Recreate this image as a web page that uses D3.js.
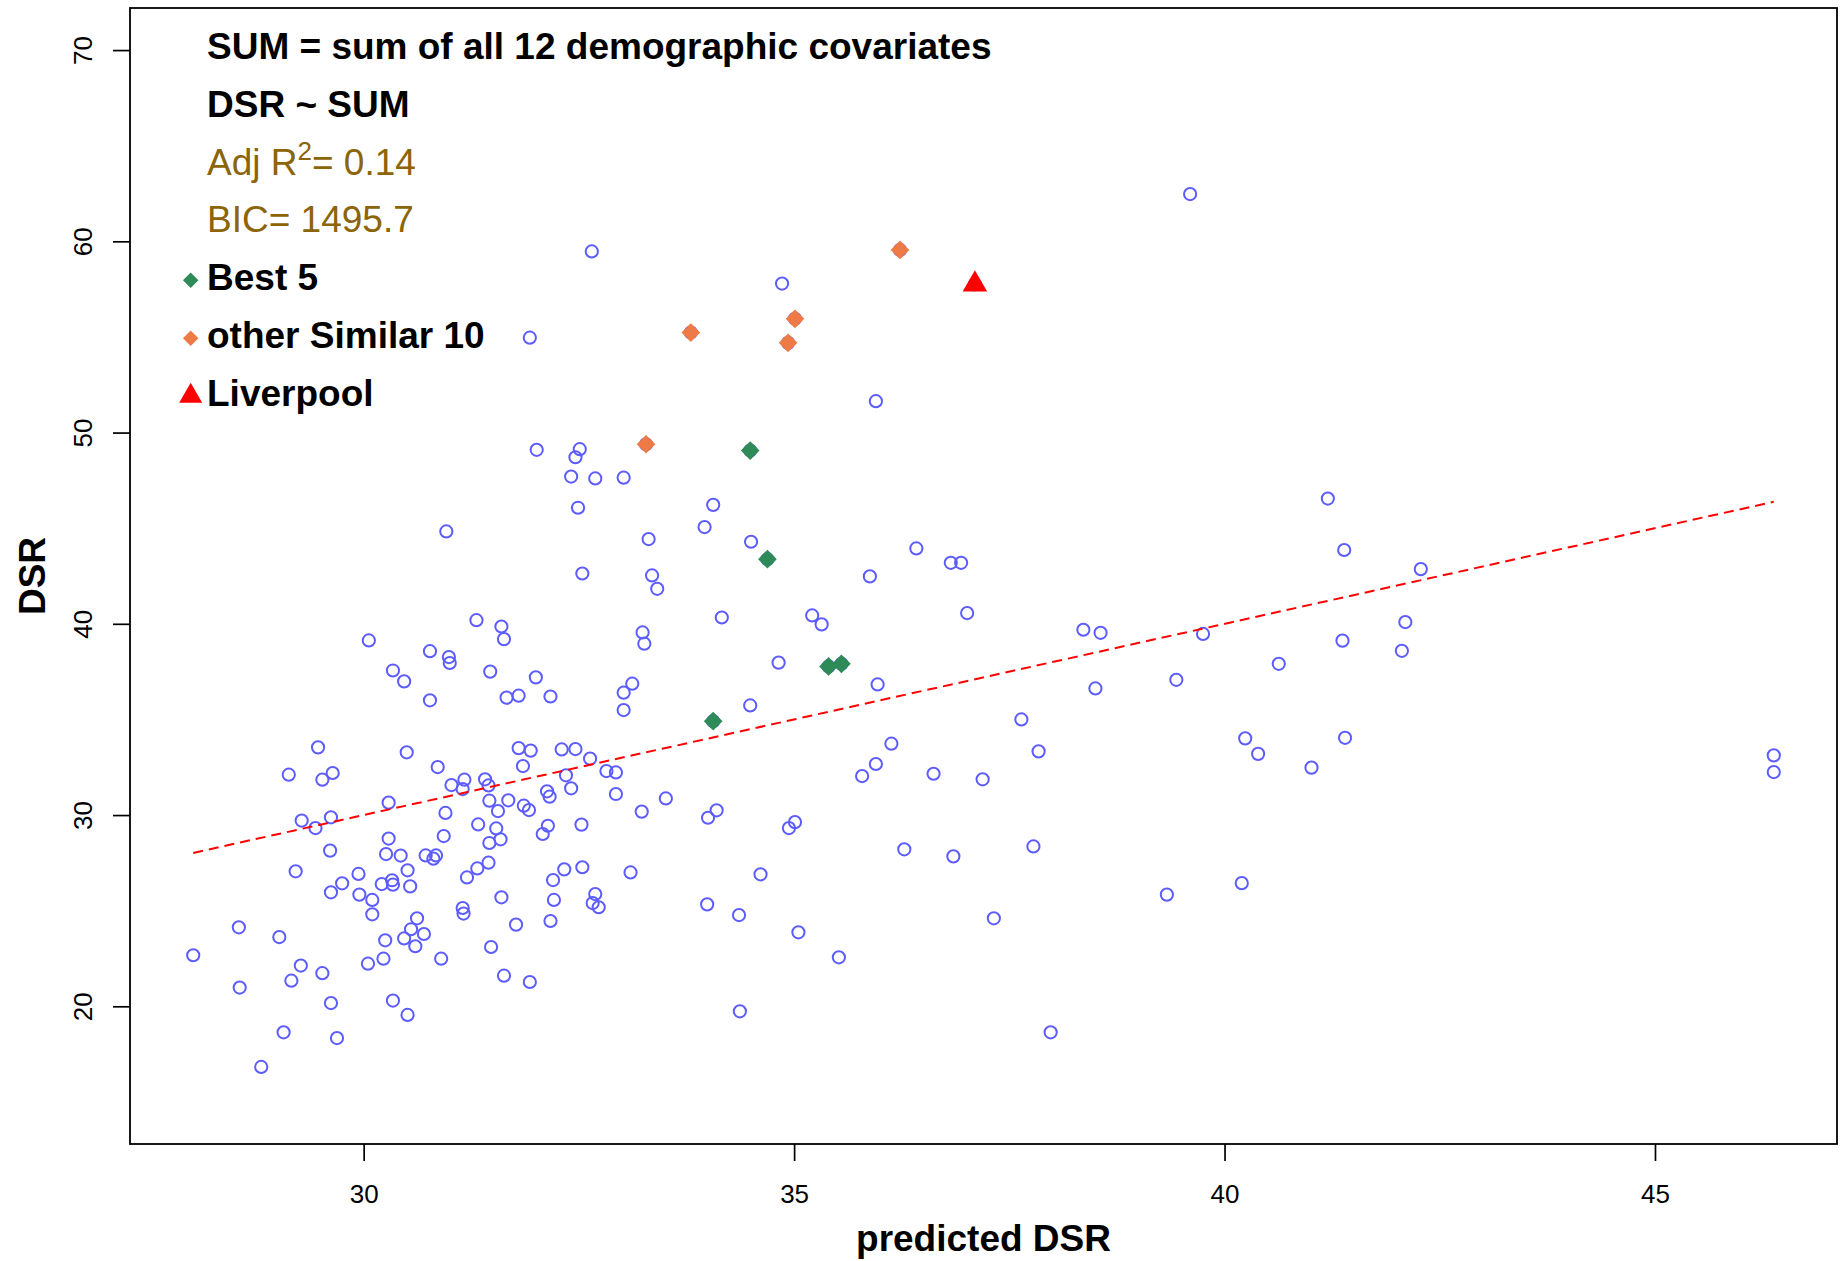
<!DOCTYPE html>
<html>
<head>
<meta charset="utf-8">
<script src="https://cdn.jsdelivr.net/npm/d3@7"></script>
<style>
  body { margin: 0; background: #fff; }
  svg { display: block; font-family: "Liberation Sans", Arial, Helvetica, sans-serif; }
</style>
</head>
<body>
<div id="d3-container"></div>
<script>
/* CONSTANTS AND GLOBALS */
const width = 1845,
  height = 1261,
  margin = { top: 8, bottom: 117, left: 130, right: 8 },
  radius = 6.1;

/* DATA */
// predicted DSR (x) and observed DSR (y), one entry per area
const predicted = [
  32.01, 32.51, 32.46, 33.28, 34.49, 32.41, 32.69, 33.02, 32.49, 34.06,
  33.96, 33.31, 34.50, 34.69, 32.54, 33.35, 33.41, 34.16, 31.31, 31.60,
  31.63, 33.24, 33.26, 34.82, 31.47, 32.00, 31.66, 31.80, 32.17, 33.12,
  33.02, 33.02, 34.49, 34.06, 30.96, 30.06, 30.77, 30.99, 31.00, 30.34,
  30.47, 30.77, 29.47, 30.50, 29.13, 29.52, 29.64, 30.86, 31.02, 31.17,
  31.15, 31.41, 31.45, 30.29, 30.95, 31.46, 29.28, 29.44, 29.62, 31.33,
  31.46, 30.93, 30.29, 29.61, 30.26, 30.43, 30.72, 30.84, 30.81, 31.45,
  31.32, 31.20, 30.51, 29.21, 29.94, 29.75, 29.62, 30.21, 30.33, 30.34,
  30.54, 29.95, 30.10, 30.10, 31.15, 31.16, 28.55, 29.02, 28.02, 30.62,
  30.55, 30.70, 30.47, 30.60, 30.25, 30.23, 30.05, 30.90, 29.27, 29.52,
  29.16, 28.56, 29.62, 30.34, 30.51, 29.07, 29.69, 28.81, 31.80, 31.94,
  32.30, 32.46, 32.63, 31.85, 32.82, 32.93, 32.35, 32.13, 32.16, 32.41,
  32.93, 31.68, 31.86, 31.92, 31.56, 33.51, 33.23, 34.10, 34.00, 35.01,
  34.94, 31.54, 32.14, 32.08, 32.53, 31.59, 32.33, 32.54, 33.10, 34.61,
  32.20, 31.60, 32.21, 32.69, 32.66, 32.73, 33.99, 34.36, 35.05, 31.77,
  32.17, 31.48, 31.63, 31.93, 34.37, 35.21, 35.32, 37.01, 38.36, 38.56,
  35.40, 35.55, 35.97, 38.50, 37.64, 36.13, 37.84, 35.95, 35.79, 36.62,
  37.19, 36.28, 36.85, 37.78, 35.52, 37.32, 37.98, 36.23, 37.10, 35.01,
  34.93, 35.95, 36.42, 36.82, 36.94, 35.88, 32.65, 34.86, 31.93, 33.80,
  39.60, 41.20, 41.39, 42.28, 39.75, 42.10, 41.37, 42.06, 40.63, 39.44,
  40.24, 40.39, 41.40, 41.01, 39.33, 40.20, 46.38, 46.38
];
const observed = [
  49.10, 49.13, 48.71, 49.39, 49.06, 47.70, 47.60, 47.64, 46.07, 46.22,
  45.06, 44.43, 44.29, 43.38, 42.63, 42.53, 41.83, 40.33, 40.19, 39.86,
  39.20, 39.55, 38.96, 37.97, 37.50, 37.20, 36.14, 36.24, 36.20, 36.87,
  36.40, 35.49, 35.73, 34.91, 44.83, 39.13, 38.57, 38.26, 37.95, 37.56,
  36.99, 36.00, 33.54, 33.28, 32.11, 31.85, 32.20, 32.51, 31.57, 31.85,
  31.36, 31.87, 31.55, 30.65, 30.11, 30.75, 29.71, 29.32, 29.88, 29.51,
  28.54, 28.90, 28.77, 28.14, 27.96, 27.88, 27.89, 27.89, 27.72, 27.51,
  27.21, 26.74, 27.11, 27.06, 26.92, 26.43, 25.96, 26.39, 26.59, 26.36,
  26.27, 25.84, 25.56, 24.81, 25.14, 24.85, 24.13, 23.62, 22.67, 24.60,
  24.03, 23.78, 23.55, 23.14, 23.45, 22.49, 22.23, 22.49, 22.13, 21.73,
  21.34, 20.98, 20.17, 20.30, 19.55, 18.64, 18.34, 16.83, 33.50, 33.37,
  33.43, 33.45, 32.95, 32.56, 32.30, 32.23, 32.08, 31.24, 30.96, 31.40,
  31.10, 30.77, 30.49, 30.26, 30.21, 30.87, 30.18, 30.25, 29.86, 29.63,
  29.32, 29.30, 29.44, 29.01, 29.50, 28.73, 27.16, 27.27, 27.00, 26.90,
  26.60, 25.70, 25.56, 25.87, 25.40, 25.18, 25.33, 24.77, 23.87, 24.27,
  24.46, 23.10, 21.60, 21.27, 19.74, 40.44, 39.97, 40.56, 39.69, 39.53,
  37.77, 37.91, 36.83, 36.62, 35.00, 33.73, 33.33, 32.67, 32.04, 32.16,
  31.87, 28.21, 27.84, 28.36, 22.56, 24.60, 18.64, 59.55, 57.75, 55.95,
  54.69, 51.64, 43.94, 43.19, 43.19, 42.48, 59.47, 57.79, 54.96, 55.23,
  62.47, 46.55, 43.86, 42.86, 39.47, 40.09, 39.12, 38.59, 37.91, 37.07,
  34.01, 33.20, 34.04, 32.48, 25.84, 26.44, 33.12, 32.25
];

// highlighted groups
const best5Pred = [34.49, 34.69, 35.40, 35.55, 34.06];
const best5Obs = [49.06, 43.38, 37.77, 37.91, 34.91];
const similarPred = [36.23, 33.80, 35.01, 34.93, 33.28];
const similarObs = [59.55, 55.23, 55.95, 54.69, 49.39];
const liverpoolPred = [37.10];
const liverpoolObs = [57.75];

// fitted line DSR ~ SUM, drawn over the range of predicted values
const fitPred = [28.02, 46.38];
const fitObs = [28.02, 46.38];

const yLimits = [15, 70];
const xTicks = [30, 35, 40, 45];
const yTicks = [20, 30, 40, 50, 60, 70];

const noteLines = ["SUM = sum of all 12 demographic covariates", "DSR ~ SUM"];
const statLines = [["Adj R", "2", "= 0.14"], ["BIC= 1495.7", "", ""]];
const legendLabels = ["Best 5", "other Similar 10", "Liverpool"];

/* COLOURS */
const pointColor = "#5c5cff",
  bestColor = "#2e8b57",
  similarColor = "#ee7b45",
  liverpoolColor = "#ff0000",
  statColor = "#8b6508";

/* SVG */
const svg = d3
  .select("#d3-container")
  .append("svg")
  .attr("width", width)
  .attr("height", height);

/* SCALES */
// R style 4% padding round the limits
const xExt = d3.extent(predicted);
const xPad = (xExt[1] - xExt[0]) * 0.04;
const yPad = (yLimits[1] - yLimits[0]) * 0.04;

const xScale = d3
  .scaleLinear()
  .domain([xExt[0] - xPad, xExt[1] + xPad])
  .range([margin.left, width - margin.right]);

const yScale = d3
  .scaleLinear()
  .domain([yLimits[0] - yPad, yLimits[1] + yPad])
  .range([height - margin.bottom, margin.top]);

/* AXES */
const xAxis = d3.axisBottom(xScale).tickValues(xTicks).tickSize(17).tickSizeOuter(0);
const yAxis = d3.axisLeft(yScale).tickValues(yTicks).tickSize(17).tickSizeOuter(0);

const gx = svg
  .append("g")
  .attr("class", "axis x-axis")
  .attr("transform", `translate(0,${height - margin.bottom})`)
  .call(xAxis);
gx.select(".domain").remove();
gx.selectAll("line").attr("stroke", "#000").attr("stroke-width", 1.7);
gx.selectAll("text")
  .attr("y", 59)
  .attr("dy", 0)
  .attr("fill", "#000")
  .style("font-size", "26px")
  .style("font-family", "Liberation Sans, Arial, sans-serif");

const gy = svg
  .append("g")
  .attr("class", "axis y-axis")
  .attr("transform", `translate(${margin.left},0)`)
  .call(yAxis);
gy.select(".domain").remove();
gy.selectAll("line").attr("stroke", "#000").attr("stroke-width", 1.7);
// y tick labels sit parallel to the axis, as in base R
gy.selectAll("text")
  .attr("x", 0)
  .attr("dy", 0)
  .attr("text-anchor", "middle")
  .attr("transform", "translate(-38,0) rotate(-90)")
  .attr("fill", "#000")
  .style("font-size", "26px")
  .style("font-family", "Liberation Sans, Arial, sans-serif");

// axis titles
svg
  .append("text")
  .attr("x", (margin.left + width - margin.right) / 2)
  .attr("y", 1251)
  .attr("text-anchor", "middle")
  .attr("font-weight", "bold")
  .attr("font-size", 37)
  .text("predicted DSR");

svg
  .append("text")
  .attr("transform", `translate(45,${(margin.top + height - margin.bottom) / 2}) rotate(-90)`)
  .attr("text-anchor", "middle")
  .attr("font-weight", "bold")
  .attr("font-size", 37)
  .text("DSR");

/* POINTS */
const data = predicted.map((p, i) => ({ pred: p, obs: observed[i] }));

svg
  .append("g")
  .selectAll("circle")
  .data(data)
  .join("circle")
  .attr("cx", d => xScale(d.pred))
  .attr("cy", d => yScale(d.obs))
  .attr("r", radius)
  .attr("fill", "none")
  .attr("stroke", pointColor)
  .attr("stroke-width", 2);

// fitted line
const lineFunc = d3
  .line()
  .x(d => xScale(d[0]))
  .y(d => yScale(d[1]));

svg
  .append("path")
  .datum(fitPred.map((p, i) => [p, fitObs[i]]))
  .attr("d", lineFunc)
  .attr("fill", "none")
  .attr("stroke", "#ff0000")
  .attr("stroke-width", 2)
  .attr("stroke-dasharray", "10,6");

// highlighted areas
const diamond = d3.symbol(d3.symbolSquare, 175);
const triangle = d3.symbol(d3.symbolTriangle, 260);

function drawGroup(preds, obs, color, sym, rotate) {
  svg
    .append("g")
    .selectAll("path")
    .data(preds.map((p, i) => ({ pred: p, obs: obs[i] })))
    .join("path")
    .attr("d", sym)
    .attr("transform", d => `translate(${xScale(d.pred)},${yScale(d.obs)}) rotate(${rotate})`)
    .attr("fill", color);
}
drawGroup(best5Pred, best5Obs, bestColor, diamond, 45);
drawGroup(similarPred, similarObs, similarColor, diamond, 45);
drawGroup(liverpoolPred, liverpoolObs, liverpoolColor, triangle, 0);

/* NOTES AND LEGEND */
const textX = 207,
  firstBase = 58.7,
  lineStep = 57.9;

noteLines.forEach((t, i) => {
  svg
    .append("text")
    .attr("x", textX)
    .attr("y", firstBase + i * lineStep)
    .attr("font-weight", "bold")
    .attr("font-size", 37)
    .text(t);
});

statLines.forEach((parts, i) => {
  const txt = svg
    .append("text")
    .attr("x", textX)
    .attr("y", firstBase + (i + 2) * lineStep)
    .attr("font-size", 37)
    .attr("fill", statColor);
  txt.append("tspan").text(parts[0]);
  if (parts[1]) {
    txt.append("tspan").attr("dy", -15).attr("font-size", 26).text(parts[1]);
    txt.append("tspan").attr("dy", 15).text(parts[2]);
  }
});

const legendColors = [bestColor, similarColor, liverpoolColor];
legendLabels.forEach((t, i) => {
  const base = firstBase + (i + 4) * lineStep;
  svg
    .append("path")
    .attr("d", i === 2 ? d3.symbol(d3.symbolTriangle, 230) : d3.symbol(d3.symbolSquare, 120))
    .attr("transform", `translate(190.7,${base - 10}) rotate(${i === 2 ? 0 : 45})`)
    .attr("fill", legendColors[i]);
  svg
    .append("text")
    .attr("x", textX)
    .attr("y", base)
    .attr("font-weight", "bold")
    .attr("font-size", 37)
    .text(t);
});

/* BOX */
svg
  .append("rect")
  .attr("x", margin.left)
  .attr("y", margin.top)
  .attr("width", width - margin.left - margin.right)
  .attr("height", height - margin.top - margin.bottom)
  .attr("fill", "none")
  .attr("stroke", "#000")
  .attr("stroke-width", 1.8);
</script>
</body>
</html>
